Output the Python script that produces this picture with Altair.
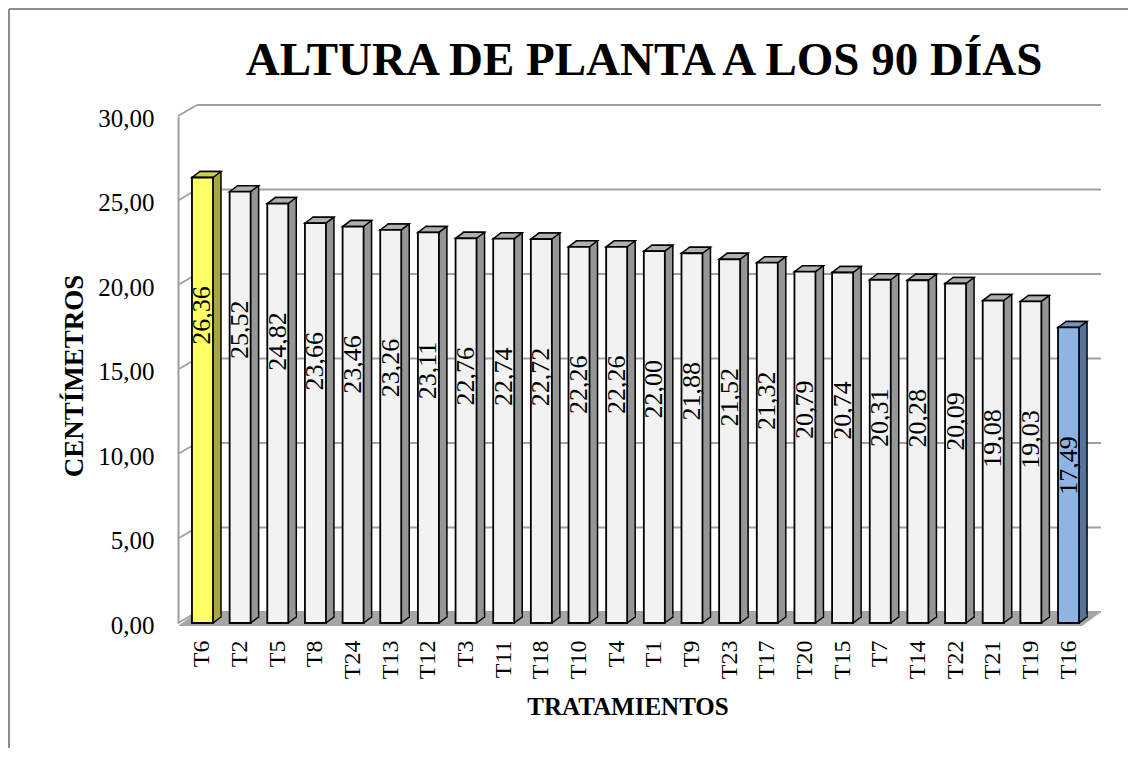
import altair as alt
import pandas as pd

# ---------------- data ----------------
TRATAMIENTOS = ["T6", "T2", "T5", "T8", "T24", "T13", "T12", "T3", "T11", "T18", "T10", "T4",
                "T1", "T9", "T23", "T17", "T20", "T15", "T7", "T14", "T22", "T21", "T19", "T16"]
ALTURAS = [26.36, 25.52, 24.82, 23.66, 23.46, 23.26, 23.11, 22.76, 22.74, 22.72, 22.26, 22.26,
           22.00, 21.88, 21.52, 21.32, 20.79, 20.74, 20.31, 20.28, 20.09, 19.08, 19.03, 17.49]
GRUPOS = ["alto"] + ["medio"] * 22 + ["bajo"]
TICKS = [0, 5, 10, 15, 20, 25, 30]
TITULO = "ALTURA DE PLANTA A LOS 90 DÍAS"
TITULO_X = "TRATAMIENTOS"
TITULO_Y = "CENTÍMETROS"

# ---------------- styles ----------------
W, H = 915, 507
FONT = "Liberation Serif"
FONT_T = "'Times New Roman', 'Liberation Serif', serif"
GROUP_DOMAIN = ["alto", "medio", "bajo"]
FRONT = ["#ffff66", "#f2f2f2", "#8eb4e3"]
SIDE = ["#a6a642", "#969696", "#56739a"]
TOP = ["#cccc4d", "#b0b0b0", "#7095c4"]
GRID = "#a0a0a0"

bars = pd.DataFrame({"trat": TRATAMIENTOS, "v": ALTURAS, "grupo": GRUPOS})
ticks = pd.DataFrame({"v": TICKS})
one = pd.DataFrame({"titulo": [TITULO], "tx": [TITULO_X], "ty": [TITULO_Y]})

xsc = alt.Scale(domain=TRATAMIENTOS, paddingInner=0, paddingOuter=0.15)
ysc = alt.Scale(domain=[0, 30], nice=False, zero=True)

x_enc = alt.X("trat:N", scale=xsc, title=None,
              axis=alt.Axis(labelAngle=-90, labelFont=FONT, labelFontSize=24, labelColor="black",
                            labelPadding=17, ticks=False, tickSize=0, domain=False, grid=False))
y_enc = alt.Y("v:Q", scale=ysc, title=None,
              axis=alt.Axis(values=TICKS,
                            labelExpr="replace(format(datum.value, '.2f'), '.', ',')",
                            labelFont=FONT, labelFontSize=25, labelColor="black", labelPadding=24,
                            labelOffset=2,
                            ticks=False, tickSize=0, domainColor=GRID, domainWidth=2, grid=False))


def fill_enc(rng):
    return alt.Fill("grupo:N", scale=alt.Scale(domain=GROUP_DOMAIN, range=rng), legend=None)


# frame border (left and top)
border_left = alt.Chart(one).mark_rule(color="#8c8c8c", strokeWidth=2).encode(
    x=alt.value(-169), y=alt.value(-107), y2=alt.value(H + 125))
border_top = alt.Chart(one).mark_rule(color="#8c8c8c", strokeWidth=2).encode(
    x=alt.value(-169), x2=alt.value(W + 40), y=alt.value(-107))

# back wall gridlines
grid_back = alt.Chart(ticks).mark_rule(color=GRID, strokeWidth=2, yOffset=-11).encode(
    x=alt.value(19), x2=alt.value(923), y=y_enc)
# left wall diagonals
grid_side = alt.Chart(ticks).mark_rule(color=GRID, strokeWidth=2, y2Offset=-11).encode(
    x=alt.value(0), x2=alt.value(19), y=y_enc, y2=alt.Y2("v:Q"))

# floor
FLOOR_PATH = "M0,3L904,3L923,-11L19,-11Z"
floor = alt.Chart(one).mark_point(shape=FLOOR_PATH, size=4, filled=True, fill="#a6a6a6",
                                  opacity=1, strokeWidth=0).encode(
    x=alt.value(0), y=alt.value(H))

base = alt.Chart(bars)

back = base.mark_bar(size=21, xOffset=8, yOffset=-6, y2Offset=-6, stroke="black",
                     strokeWidth=1.5).encode(x=x_enc, y=y_enc, fill=fill_enc(SIDE))

BOT_PATH = "M10.5,0L18,-5.6L18,-9L10.5,-9Z"
bottom_cap = base.mark_point(shape=BOT_PATH, size=4, filled=True, opacity=1,
                             strokeWidth=0).encode(x=x_enc, y=alt.value(H), fill=fill_enc(SIDE))
bottom_edge = base.mark_point(shape="M10.5,0L18.5,-6", size=4, filled=False, opacity=1,
                              stroke="black", strokeWidth=1.5).encode(x=x_enc, y=alt.value(H))

TOP_PATH = "M-10.5,0L10.5,0L18.5,-6L-2.5,-6Z"
top_face = base.mark_point(shape=TOP_PATH, size=4, filled=True, opacity=1, stroke="black",
                           strokeWidth=1.5).encode(x=x_enc, y=y_enc, fill=fill_enc(TOP))

front = base.mark_bar(size=21, stroke="black", strokeWidth=1.8).encode(
    x=x_enc, y=y_enc, fill=fill_enc(FRONT))

labels = base.transform_calculate(
    lab="replace(format(datum.v, '.2f'), '.', ',')"
).mark_text(angle=270, font=FONT_T, fontSize=26, color="black", baseline="middle",
            align="center", yOffset=138).encode(x=x_enc, y=y_enc, text="lab:N")

title = alt.Chart(one).mark_text(font=FONT_T, fontSize=47, fontWeight="bold", color="black",
                                 align="center", baseline="alphabetic").encode(
    x=alt.value(466), y=alt.value(-41), text="titulo:N")
xtitle = alt.Chart(one).mark_text(font=FONT, fontSize=25, fontWeight="bold", color="black",
                                  align="center", baseline="alphabetic").encode(
    x=alt.value(450), y=alt.value(H + 92), text="tx:N")
ytitle = alt.Chart(one).mark_text(font=FONT, fontSize=27, fontWeight="bold", color="black",
                                  align="center", baseline="alphabetic", angle=270).encode(
    x=alt.value(-95), y=alt.value(260), text="ty:N")

chart = alt.layer(
    border_left, border_top, grid_back, grid_side, floor, back, bottom_cap, bottom_edge,
    top_face, front, labels, title, xtitle, ytitle
).resolve_scale(fill="independent").properties(
    width=W, height=H,
    autosize=alt.AutoSizeParams(type="none"),
    padding={"left": 170, "top": 108, "right": 35, "bottom": 125},
    background="white",
).configure(font=FONT).configure_view(stroke=None).configure_text(font=FONT)

chart.save("out.html", embed_options={"renderer": "svg", "actions": False})
